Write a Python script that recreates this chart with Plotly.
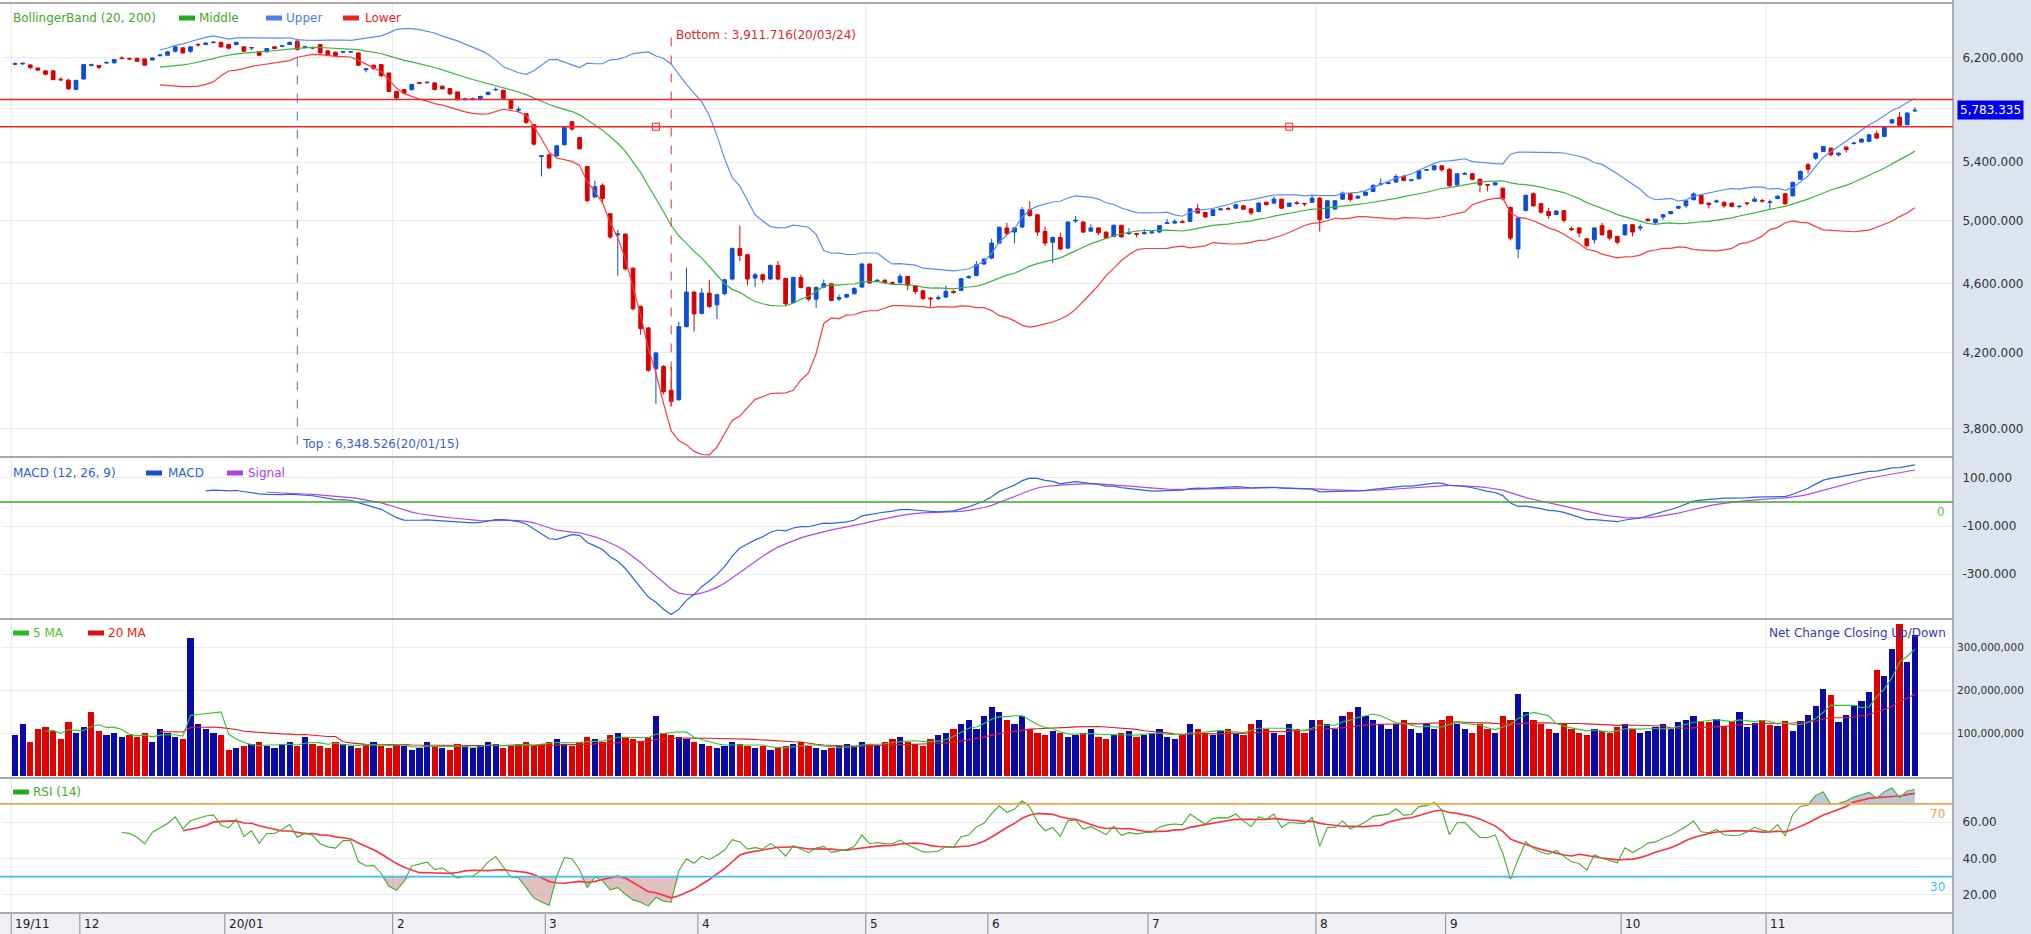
import numpy as np
import pandas as pd
import plotly.graph_objects as go

# ---------------- data ----------------
open_ = [
6145,6148,6140,6115,6092,6092,6025,6017,5945,6027,
6136,6135,6155,6157,6196,6192,6194,6189,6180,6215,
6219,6252,6280,6252,6309,6307,6323,6326,6307,6307,
6288,6278,6247,6247,6288,6293,6307,6335,6285,6282,
6307,6255,6244,6244,6245,6238,6100,6138,6143,6075,
5929,5943,5943,5998,5997,5996,5970,5951,5925,5866,
5868,5865,5904,5940,5938,5860,5784,5757,5674,5440,
5453,5445,5526,5696,5579,5369,5158,5237,5045,4905,
4911,4695,4463,4339,4111,4124,3996,3947,4347,4549,
4423,4543,4473,4539,4628,4818,4779,4634,4654,4628,
4712,4632,4487,4638,4577,4507,4579,4599,4507,4519,
4539,4579,4721,4614,4620,4607,4607,4644,4587,4557,
4513,4510,4519,4553,4559,4636,4650,4721,4758,4853,
4951,4924,4957,5071,5038,4928,4859,4889,4821,4996,
4990,4930,4951,4924,4896,4968,4915,4914,4914,4919,
4924,4980,4983,4992,4994,5078,5053,5033,5071,5080,
5082,5098,5078,5060,5122,5116,5143,5094,5118,5113,
5122,5150,5016,5076,5143,5180,5150,5169,5195,5243,
5250,5260,5299,5273,5283,5343,5346,5374,5350,5241,
5315,5318,5280,5243,5241,5218,5087,4815,5067,5180,
5112,5060,5040,5065,4946,4951,4881,4874,4966,4935,
4896,4907,4972,4950,5009,4986,5023,5045,5082,5098,
5139,5169,5116,5124,5122,5116,5093,5117,5128,5134,
5120,5147,5180,5166,5280,5382,5429,5477,5501,5453,
5509,5534,5545,5550,5607,5587,5687,5731,5674,5778,
]
high = [
6160,6162,6145,6118,6095,6095,6040,6030,6022,6148,
6150,6138,6168,6188,6210,6200,6198,6192,6200,6230,
6250,6292,6284,6292,6318,6325,6335,6330,6310,6330,
6292,6284,6250,6278,6292,6303,6330,6348.526,6296,6290,
6312,6258,6248,6252,6253,6242,6115,6142,6147,6078,
5932,5946,5990,6005,6007,6000,5974,5955,5928,5880,
5882,5895,5925,5960,5942,5864,5812,5762,5678,5450,
5460,5525,5660,5703,5582,5372,5270,5250,5048,4939,
4915,4700,4470,4345,4205,4130,4124,4376,4699,4555,
4573,4624,4540,4630,4825,4966,4785,4665,4660,4718,
4740,4636,4642,4655,4582,4582,4625,4605,4535,4540,
4578,4725,4725,4630,4630,4612,4660,4648,4590,4560,
4520,4530,4590,4560,4635,4650,4740,4760,4880,4960,
4985,4956,5090,5128,5042,4960,4895,4920,4995,5030,
4995,4975,4955,4928,4975,4972,4950,4916,4945,4930,
4970,5010,5010,5005,5082,5112,5058,5076,5082,5090,
5112,5102,5082,5120,5126,5160,5147,5120,5130,5115,
5165,5155,5136,5136,5195,5184,5167,5195,5245,5286,
5262,5315,5310,5282,5343,5352,5378,5378,5360,5322,
5330,5322,5284,5246,5260,5222,5092,5020,5173,5190,
5116,5085,5067,5069,4960,4955,4885,4955,4985,4940,
4900,4976,4976,4975,5013,5012,5042,5064,5098,5136,
5190,5172,5120,5140,5126,5120,5096,5119,5160,5145,
5140,5167,5185,5262,5340,5395,5470,5517,5505,5470,
5513,5545,5572,5604,5630,5662,5718,5770,5770,5805,
]
low = [
6138,6140,6105,6090,6055,6018,6010,5940,5938,6020,
6128,6105,6150,6150,6185,6182,6165,6135,6176,6210,
6215,6240,6232,6235,6290,6303,6318,6282,6265,6300,
6248,6262,6210,6243,6270,6288,6303,6258,6276,6270,
6230,6215,6210,6238,6240,6132,6080,6100,6040,5925,
5870,5908,5935,5988,5992,5938,5943,5900,5858,5855,
5858,5860,5900,5936,5868,5790,5765,5680,5520,5300,
5350,5440,5520,5630,5490,5125,5150,5120,4880,4648,
4680,4440,4300,4095,3926,3975,3911.716,3940,4340,4318,
4418,4455,4390,4530,4620,4740,4590,4580,4605,4622,
4622,4465,4480,4570,4495,4455,4572,4495,4495,4512,
4535,4575,4598,4608,4598,4596,4600,4560,4535,4500,
4461,4500,4515,4540,4555,4630,4645,4715,4750,4848,
4905,4853,4950,5025,4900,4835,4728,4808,4815,4985,
4918,4925,4905,4880,4890,4888,4905,4890,4908,4912,
4920,4976,4978,4982,4990,5045,5015,5028,5066,5068,
5078,5070,5035,5055,5100,5112,5075,5090,5105,5095,
5118,4928,5010,5070,5138,5125,5143,5165,5190,5235,
5245,5255,5265,5262,5278,5338,5340,5330,5228,5230,
5310,5272,5191,5195,5235,5135,4870,4758,5060,5090,
5045,5010,5035,4985,4930,4890,4825,4850,4900,4870,
4845,4900,4895,4930,4994,4975,5005,5040,5078,5085,
5135,5108,5080,5118,5085,5090,5080,5098,5124,5120,
5071,5142,5105,5160,5275,5320,5415,5472,5440,5440,
5470,5530,5540,5545,5568,5582,5680,5662,5668,5770,
]
close = [
6150,6152,6118,6098,6065,6022,6020,5949,6015,6143,
6141,6120,6160,6184,6192,6188,6170,6138,6197,6220,
6247,6288,6238,6288,6305,6320,6327,6288,6277,6326,
6252,6282,6219,6274,6274,6297,6326,6266,6289,6279,
6238,6222,6216,6248,6248,6138,6108,6110,6053,5929,
5878,5915,5983,5994,6001,5943,5949,5910,5865,5871,
5872,5890,5922,5944,5875,5796,5790,5690,5530,5446,
5360,5518,5654,5641,5496,5132,5228,5147,4892,4912,
4691,4450,4335,4103,4198,3988,3938,4347,4549,4420,
4543,4463,4533,4624,4818,4774,4628,4654,4624,4712,
4628,4479,4638,4577,4507,4577,4599,4499,4517,4535,
4571,4721,4604,4620,4605,4603,4644,4590,4553,4511,
4509,4515,4553,4547,4630,4644,4716,4751,4853,4955,
4913,4951,5071,5033,4924,4853,4889,4815,4990,5001,
4924,4951,4920,4885,4968,4893,4920,4910,4920,4925,
4966,4985,4993,4988,5078,5050,5024,5071,5077,5076,
5105,5075,5050,5116,5105,5143,5082,5116,5114,5111,
5150,5005,5132,5132,5184,5140,5163,5191,5237,5248,
5255,5299,5272,5277,5339,5347,5374,5346,5234,5318,
5320,5280,5241,5239,5255,5145,4885,5016,5169,5098,
5055,5033,5063,5001,4940,4918,4836,4951,4907,4885,
4859,4972,4924,4957,4999,5009,5038,5060,5094,5132,
5178,5112,5105,5130,5098,5094,5095,5115,5143,5130,
5124,5163,5112,5258,5335,5350,5465,5513,5453,5465,
5490,5538,5567,5599,5575,5657,5711,5669,5762,5783.335,
]
# volume in millions of shares
volume_mn = [
95,120,80,110,115,105,85,125,100,
115,150,105,95,100,90,95,90,100,80,110,100,90,85,320,120,110,100,95,
60,65,70,75,80,70,65,75,80,70,90,75,70,65,80,75,70,65,75,80,70,65,
75,70,60,65,80,70,65,60,75,70,65,70,80,75,65,70,75,80,70,75,
80,85,75,70,80,90,85,80,95,100,90,85,80,90,140,100,95,90,85,80,
75,70,65,70,80,75,70,65,70,60,65,70,75,80,70,65,60,65,70,75,70,80,
75,70,80,85,90,80,75,70,85,95,100,110,120,130,110,140,
160,150,130,120,140,110,100,95,105,100,90,95,100,110,90,85,95,100,105,90,95,
100,110,90,85,95,120,110,100,95,105,110,100,95,120,130,110,100,95,120,110,100,130,
130,120,110,140,150,160,140,130,120,110,120,130,110,100,120,110,130,
140,120,110,100,120,110,100,140,130,190,150,130,120,110,100,120,110,100,95,110,105,100,115,
120,110,100,105,115,120,110,125,130,140,128,126,133,117,128,149,115,123,130,
119,116,129,105,129,142,163,202,188,126,142,165,174,196,246,233,295,353,266,328,
]
month_labels = ["19/11", "12", "20/01", "2", "3", "4", "5", "6", "7", "8", "9", "10", "11"]
month_start_idx = [0, 9, 28, 50, 70, 90, 112, 128, 149, 171, 188, 211, 230]
quarter_grid_labels = ["19/11", "2", "5", "8", "11"]
top_label = "Top : 6,348.526(20/01/15)"
bottom_label = "Bottom : 3,911.716(20/03/24)"
level_lines = [5865, 5659]
level_handle_idx = [84, 167]
price_ticks = [3800, 4200, 4600, 5000, 5400, 5800, 6200]
macd_ticks = [100, -100, -300]
vol_ticks = [100e6, 200e6, 300e6]
rsi_ticks = [20, 40, 60]

# ---------------- indicators ----------------
n = len(close)
xs = np.arange(n)
c = pd.Series(close, dtype=float)
mid = c.rolling(20).mean()
sd = c.rolling(20).std(ddof=0)
upper = mid + 2 * sd
lower = mid - 2 * sd

ema12 = c.ewm(span=12, adjust=False).mean()
ema26 = c.ewm(span=26, adjust=False).mean()
macd = (ema12 - ema26).copy()
macd[:25] = np.nan
signal = macd.ewm(span=9, adjust=False).mean()
signal[:33] = np.nan

d = c.diff()
g = d.clip(lower=0).values
l_ = (-d).clip(lower=0).values
ag = np.full(n, np.nan)
al = np.full(n, np.nan)
ag[14] = np.nanmean(g[1:15])
al[14] = np.nanmean(l_[1:15])
for i in range(15, n):
    ag[i] = (ag[i - 1] * 13 + g[i]) / 14
    al[i] = (al[i - 1] * 13 + l_[i]) / 14
rsi = 100 - 100 / (1 + ag / al)
rsi_sig = pd.Series(rsi).rolling(9).mean().values

vol = np.array(volume_mn, dtype=float) * 1e6
vol_s = pd.Series(vol)
vma5 = vol_s.rolling(5).mean()
vma20 = vol_s.rolling(20).mean()
prev = np.r_[open_[0], close[:-1]]
vol_colors = ["#0a0aa8" if close[i] >= prev[i] else "#e00000" for i in range(n)]

# ---------------- figure ----------------
BLUE = "#0b4fd6"
RED = "#d80000"
FONT = "DejaVu Sans"
fig = go.Figure()

fig.add_trace(go.Scatter(x=xs, y=upper, mode="lines", line=dict(color="#5b8cf5", width=1.2),
                         hoverinfo="skip", xaxis="x", yaxis="y"))
fig.add_trace(go.Scatter(x=xs, y=mid, mode="lines", line=dict(color="#3cb43c", width=1.2),
                         hoverinfo="skip", xaxis="x", yaxis="y"))
fig.add_trace(go.Scatter(x=xs, y=lower, mode="lines", line=dict(color="#ff3b3b", width=1.2),
                         hoverinfo="skip", xaxis="x", yaxis="y"))
fig.add_trace(go.Candlestick(x=xs, open=open_, high=high, low=low, close=close,
                             increasing=dict(line=dict(color=BLUE, width=1), fillcolor=BLUE),
                             decreasing=dict(line=dict(color=RED, width=1), fillcolor=RED),
                             whiskerwidth=0, hoverinfo="skip", xaxis="x", yaxis="y"))
fig.add_trace(go.Scatter(x=level_handle_idx, y=[level_lines[1]] * len(level_handle_idx), mode="markers",
                         marker=dict(symbol="square-open", size=7, color="#ff2020", line=dict(width=1)),
                         hoverinfo="skip", xaxis="x", yaxis="y"))

# MACD
fig.add_trace(go.Scatter(x=xs, y=signal, mode="lines", line=dict(color="#b347e6", width=1.2),
                         hoverinfo="skip", xaxis="x2", yaxis="y2"))
fig.add_trace(go.Scatter(x=xs, y=macd, mode="lines", line=dict(color="#2c66dc", width=1.2),
                         hoverinfo="skip", xaxis="x2", yaxis="y2"))

# Volume
fig.add_trace(go.Bar(x=xs, y=vol, marker=dict(color=vol_colors, line=dict(width=0)), width=0.82,
                     hoverinfo="skip", xaxis="x3", yaxis="y3"))
fig.add_trace(go.Scatter(x=xs, y=vma20, mode="lines", line=dict(color="#dd2020", width=1.1),
                         hoverinfo="skip", xaxis="x3", yaxis="y3"))
fig.add_trace(go.Scatter(x=xs, y=vma5, mode="lines", line=dict(color="#33c433", width=1.1),
                         hoverinfo="skip", xaxis="x3", yaxis="y3"))

# RSI fills
valid = ~np.isnan(rsi)
xv = xs[valid]
rv = rsi[valid]
fig.add_trace(go.Scatter(x=xv, y=np.full(len(xv), 30.0), mode="lines", line=dict(width=0),
                         hoverinfo="skip", xaxis="x4", yaxis="y4"))
fig.add_trace(go.Scatter(x=xv, y=np.minimum(rv, 30), mode="lines", line=dict(width=0),
                         fill="tonexty", fillcolor="rgba(205,150,150,0.6)",
                         hoverinfo="skip", xaxis="x4", yaxis="y4"))
fig.add_trace(go.Scatter(x=xv, y=np.full(len(xv), 70.0), mode="lines", line=dict(width=0),
                         hoverinfo="skip", xaxis="x4", yaxis="y4"))
fig.add_trace(go.Scatter(x=xv, y=np.maximum(rv, 70), mode="lines", line=dict(width=0),
                         fill="tonexty", fillcolor="rgba(150,180,210,0.7)",
                         hoverinfo="skip", xaxis="x4", yaxis="y4"))
fig.add_trace(go.Scatter(x=xs, y=rsi_sig, mode="lines", line=dict(color="#ff3040", width=1.6),
                         hoverinfo="skip", xaxis="x4", yaxis="y4"))
fig.add_trace(go.Scatter(x=xs, y=rsi, mode="lines", line=dict(color="#46ad2e", width=1.1),
                         hoverinfo="skip", xaxis="x4", yaxis="y4"))

# ---------------- layout ----------------
W, H = 2031, 934
ML, MR, MT, MB = 2, 78, 4, 21
PW = W - ML - MR
PH = H - MT - MB


def py(ypx):  # pixel from top -> paper y
    return (H - MB - ypx) / PH


def pxx(xpx):
    return (xpx - ML) / PW


step = 7.63
x0 = -(15 - ML) / step
x1 = x0 + PW / step

dom_price = [py(456), 1.0]
dom_macd = [py(619), py(458)]
dom_vol = [py(778), py(620)]
dom_rsi = [0.0, py(779)]

tickfont = dict(family=FONT, size=12, color="#333333")
common_y = dict(side="right", showline=False, zeroline=False, gridcolor="#ebebeb", gridwidth=1,
                ticks="outside", tickcolor="rgba(0,0,0,0)",
                fixedrange=True, automargin=False)
common_x = dict(range=[x0, x1], showticklabels=False, showgrid=False, zeroline=False, showline=False,
                fixedrange=True, automargin=False)

price_text = ["" if v == 5800 else f"{v:,.3f}" for v in price_ticks]

fig.update_layout(
    width=W, height=H, margin=dict(l=ML, r=MR, t=MT, b=MB, autoexpand=False),
    paper_bgcolor="white", plot_bgcolor="white", showlegend=False,
    font=dict(family=FONT, size=12, color="#333333"),
    xaxis=dict(domain=[0, 1], anchor="y", rangeslider=dict(visible=False), **common_x),
    xaxis2=dict(domain=[0, 1], anchor="y2", matches="x", **common_x),
    xaxis3=dict(domain=[0, 1], anchor="y3", matches="x", **common_x),
    xaxis4=dict(domain=[0, 1], anchor="y4", matches="x", **common_x),
    yaxis=dict(domain=dom_price, anchor="x", type="log",
               range=[np.log10(3664), np.log10(6654)], ticklen=6, tickfont=tickfont,
               tickvals=price_ticks, ticktext=price_text, **common_y),
    yaxis2=dict(domain=dom_macd, anchor="x2", range=[-487.5, 183.3], ticklen=6, tickfont=tickfont,
                tickvals=macd_ticks, ticktext=[f"{v:,.3f}" for v in macd_ticks], **common_y),
    yaxis3=dict(domain=dom_vol, anchor="x3", range=[-4.65e6, 362.8e6], ticklen=1,
                tickfont=dict(family=FONT, size=10.5, color="#333333"),
                tickvals=vol_ticks, ticktext=[f"{int(v):,}" for v in vol_ticks], **common_y),
    yaxis4=dict(domain=dom_rsi, anchor="x4", range=[10.1, 83.6], ticklen=6, tickfont=tickfont,
                tickvals=rsi_ticks, ticktext=[f"{v:.2f}" for v in rsi_ticks], **common_y),
    bargap=0,
)

shapes = []
# right axis background and x-axis strip
shapes.append(dict(type="rect", xref="paper", yref="paper", x0=1, x1=pxx(W + 10), y0=py(H + 5), y1=py(-5),
                   fillcolor="#dde4ed", line=dict(width=0), layer="below"))
shapes.append(dict(type="rect", xref="paper", yref="paper", x0=pxx(-5), x1=1, y0=py(H + 5), y1=0,
                   fillcolor="#eef0f5", line=dict(width=0), layer="below"))
# vertical quarterly gridlines + month separators
for lab, ms in zip(month_labels, month_start_idx):
    if lab in quarter_grid_labels:
        shapes.append(dict(type="line", xref="x", yref="paper", x0=ms - 0.5, x1=ms - 0.5, y0=0, y1=1,
                           line=dict(color="#e6e6e6", width=1), layer="below"))
    shapes.append(dict(type="line", xref="x", yref="paper", x0=ms - 0.5, x1=ms - 0.5, y0=py(H), y1=0,
                       line=dict(color="#8a8a8a", width=1)))
# panel separators
for ypx in [3, 457, 619, 778, 913]:
    shapes.append(dict(type="line", xref="paper", yref="paper", x0=pxx(0), x1=1, y0=py(ypx), y1=py(ypx),
                       line=dict(color="#a9a9a9", width=2)))
shapes.append(dict(type="line", xref="paper", yref="paper", x0=1, x1=1, y0=py(H), y1=py(0),
                   line=dict(color="#9a9a9a", width=1.5)))
# level lines
for lv in level_lines:
    shapes.append(dict(type="line", xref="paper", yref="y", x0=pxx(0), x1=1, y0=lv, y1=lv,
                       line=dict(color="#ff2020", width=1.5)))
# top / bottom markers
i_top = int(np.argmax(high))
i_bot = int(np.argmin(low))
shapes.append(dict(type="line", xref="x", yref="y", x0=i_top, x1=i_top, y0=high[i_top], y1=3700,
                   line=dict(color="#4a6fd0", width=1, dash="dash")))
shapes.append(dict(type="line", xref="x", yref="y", x0=i_bot, x1=i_bot, y0=low[i_bot], y1=6420,
                   line=dict(color="#e03030", width=1, dash="dash")))
# zero / 70 / 30 lines
shapes.append(dict(type="line", xref="paper", yref="y2", x0=pxx(0), x1=1, y0=0, y1=0,
                   line=dict(color="#3aaa2a", width=1.5)))
shapes.append(dict(type="line", xref="paper", yref="y4", x0=pxx(0), x1=1, y0=70, y1=70,
                   line=dict(color="#f0a448", width=1.8)))
shapes.append(dict(type="line", xref="paper", yref="y4", x0=pxx(0), x1=1, y0=30, y1=30,
                   line=dict(color="#3cc0f0", width=1.8)))

ann = []


def legend_swatch(x_px, y_px, col):
    shapes.append(dict(type="rect", xref="paper", yref="paper", x0=pxx(x_px), x1=pxx(x_px + 16),
                       y0=py(y_px + 2.5), y1=py(y_px - 2.5), fillcolor=col, line=dict(width=0)))


def legend_text(x_px, y_px, text, col):
    ann.append(dict(xref="paper", yref="paper", x=pxx(x_px), y=py(y_px), xanchor="left", yanchor="middle",
                    text=text, showarrow=False, font=dict(family=FONT, size=12, color=col)))


# price legend
legend_text(11, 18, "BollingerBand (20, 200)", "#3daa1f")
legend_swatch(179, 18, "#22aa22")
legend_text(197, 18, "Middle", "#3daa1f")
legend_swatch(266, 18, "#4a7cf0")
legend_text(284, 18, "Upper", "#4a7cf0")
legend_swatch(343, 18, "#ee2020")
legend_text(363, 18, "Lower", "#ee2020")
# MACD legend
legend_text(11, 473, "MACD (12, 26, 9)", "#2f5fd0")
legend_swatch(146, 473, "#1f4fcf")
legend_text(166, 473, "MACD", "#2f5fd0")
legend_swatch(227, 473, "#b040e0")
legend_text(246, 473, "Signal", "#b040e0")
# volume legend
legend_swatch(13, 633, "#22bb22")
legend_text(31, 633, "5 MA", "#55c02a")
legend_swatch(88, 633, "#dd1010")
legend_text(106, 633, "20 MA", "#ee2020")
# RSI legend
legend_swatch(13, 792, "#22aa22")
legend_text(31, 792, "RSI (14)", "#46ad2e")

fig.update_layout(shapes=shapes)

ann.append(dict(xref="paper", yref="paper", x=pxx(1948), y=py(633), xanchor="right", yanchor="middle",
                text="Net Change Closing Up/Down", showarrow=False,
                font=dict(family=FONT, size=12, color="#3838b0")))
# top / bottom labels
ann.append(dict(xref="x", yref="y", x=i_top, y=np.log10(3722), xanchor="left", yanchor="middle",
                xshift=3, text=top_label, showarrow=False, font=dict(family=FONT, size=12, color="#3a5fc8")))
ann.append(dict(xref="x", yref="y", x=i_bot, y=np.log10(6390), xanchor="left", yanchor="middle",
                xshift=3, text=bottom_label, showarrow=False, font=dict(family=FONT, size=12, color="#e02828")))
# current price box
ann.append(dict(xref="paper", yref="y", x=pxx(1957), y=np.log10(close[-1]), xanchor="left", yanchor="middle",
                text=f"{close[-1]:,.3f}", showarrow=False, bgcolor="#0000ee", borderpad=2,
                font=dict(family=FONT, size=12, color="white")))
# level labels in panels
ann.append(dict(xref="paper", yref="y2", x=pxx(1947), y=0, xanchor="right", yanchor="top", yshift=-1,
                text="0", showarrow=False, font=dict(family=FONT, size=12, color="#55cc33")))
ann.append(dict(xref="paper", yref="y4", x=pxx(1947), y=70, xanchor="right", yanchor="top", yshift=-1,
                text="70", showarrow=False, font=dict(family=FONT, size=12, color="#f0a040")))
ann.append(dict(xref="paper", yref="y4", x=pxx(1947), y=30, xanchor="right", yanchor="top", yshift=-1,
                text="30", showarrow=False, font=dict(family=FONT, size=12, color="#40c0f0")))
# month labels
for lab, ms in zip(month_labels, month_start_idx):
    ann.append(dict(xref="x", yref="paper", x=ms - 0.5, y=py(923.5), xanchor="left", yanchor="middle",
                    xshift=2, text=lab, showarrow=False, font=dict(family=FONT, size=12, color="#222222")))
fig.update_layout(annotations=ann)

fig.write_html("out.html", config={"displayModeBar": False},
               post_script="document.body.style.margin='0';document.body.style.overflow='hidden';")
